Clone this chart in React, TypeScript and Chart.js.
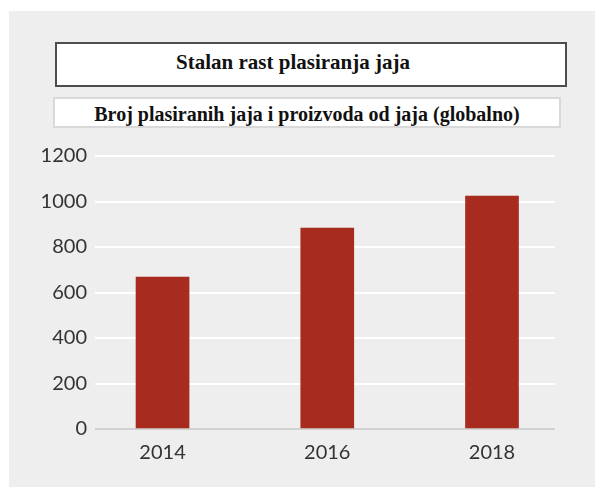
import React, { useEffect, useRef } from "react";
import { Chart, registerables } from "chart.js";

Chart.register(...registerables);

const titleText = "Stalan rast plasiranja jaja";
const subtitleText = "Broj plasiranih jaja i proizvoda od jaja (globalno)";
const years = [2014, 2016, 2018];
const values = [668, 883, 1024];
const yTicks = [0, 200, 400, 600, 800, 1000, 1200];

const BAR_COLOR = "#a72b1f";
const BG = "rgb(237,238,237)";
const LABEL_FONT = "Lato, 'Open Sans', sans-serif";
const SERIF = "'Liberation Serif', 'Times New Roman', serif";

export default function App() {
  const canvasRef = useRef<HTMLCanvasElement | null>(null);

  useEffect(() => {
    const canvas = canvasRef.current;
    if (!canvas) return;
    const chart = new Chart(canvas, {
      type: "bar",
      data: {
        datasets: [
          {
            data: years.map((yr, i) => ({ x: yr, y: values[i] })),
            backgroundColor: BAR_COLOR,
            borderWidth: 0,
            barThickness: 53,
          },
        ],
      },
      options: {
        responsive: false,
        animation: false,
        layout: { padding: { left: 0, top: 156, right: 40, bottom: 0 } },
        plugins: {
          legend: { display: false },
          tooltip: { enabled: false },
          title: { display: false },
        },
        scales: {
          x: {
            type: "linear",
            offset: false,
            min: 2013.18,
            max: 2018.765,
            afterBuildTicks: (scale: any) => {
              scale.ticks = years.map((v) => ({ value: v }));
            },
            afterFit: (scale: any) => {
              scale.height = 59;
            },
            grid: { display: false, drawTicks: false, offset: false },
            border: { display: false },
            ticks: {
              padding: 12,
              color: "#333",
              font: { family: LABEL_FONT, size: 20 },
              callback: (v: any) => String(v),
            },
          },
          y: {
            min: 0,
            max: 1200,
            afterBuildTicks: (scale: any) => {
              scale.ticks = yTicks.map((v) => ({ value: v }));
            },
            afterFit: (scale: any) => {
              scale.width = 95;
            },
            grid: {
              drawTicks: false,
              color: (ctx: any) => (ctx.tick && ctx.tick.value === 0 ? "#d2d2d2" : "#ffffff"),
              lineWidth: 2,
            },
            border: { display: false },
            ticks: {
              padding: 8,
              color: "#333",
              font: { family: LABEL_FONT, size: 20 },
              callback: (v: any) => String(v),
            },
          },
        },
      },
    });
    return () => chart.destroy();
  }, []);

  return (
    <div style={{ position: "absolute", left: 0, top: 0, width: 595, height: 488, background: "#fff", overflow: "hidden" }}>
      <div style={{ position: "absolute", left: 9, top: 11, width: 586, height: 476, background: BG }} />
      <div
        style={{
          position: "absolute",
          left: 55,
          top: 42,
          width: 512,
          height: 45,
          boxSizing: "border-box",
          border: "2px solid #4d4d4d",
          background: "#fff",
        }}
      />
      <div
        style={{
          position: "absolute",
          left: 0,
          top: 52,
          width: 586,
          textAlign: "center",
          fontFamily: SERIF,
          fontWeight: "bold",
          fontSize: 21,
          lineHeight: "21px",
          color: "#111",
          whiteSpace: "nowrap",
        }}
      >
        {titleText}
      </div>
      <div
        style={{
          position: "absolute",
          left: 53,
          top: 97,
          width: 508,
          height: 31,
          boxSizing: "border-box",
          border: "2px solid #d9d9d9",
          background: "#fff",
        }}
      />
      <div
        style={{
          position: "absolute",
          left: 53,
          top: 104,
          width: 508,
          textAlign: "center",
          fontFamily: SERIF,
          fontWeight: "bold",
          fontSize: 20,
          lineHeight: "20px",
          color: "#111",
          whiteSpace: "nowrap",
        }}
      >
        {subtitleText}
      </div>
      <canvas
        ref={canvasRef}
        width={595}
        height={488}
        style={{ position: "absolute", left: 0, top: 0, width: 595, height: 488 }}
      />
    </div>
  );
}
